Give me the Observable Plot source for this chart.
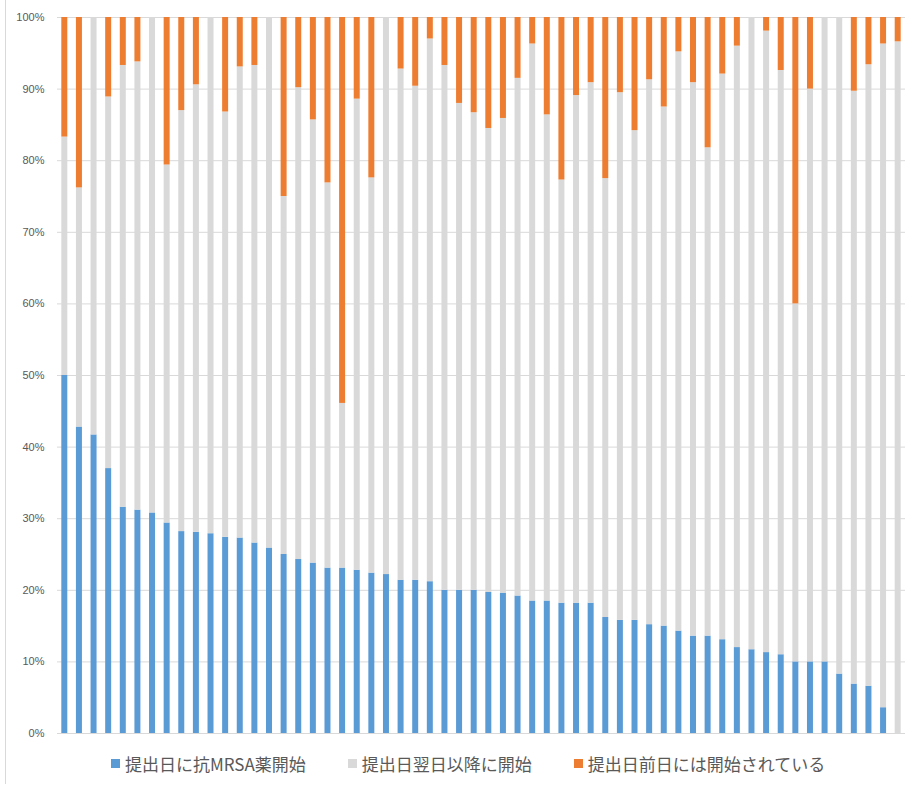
<!DOCTYPE html>
<html>
<head>
<meta charset="utf-8">
<script src="https://cdn.jsdelivr.net/npm/d3@7"></script>
<script src="https://cdn.jsdelivr.net/npm/@observablehq/plot@0.6"></script>
<style>
  html, body { margin: 0; padding: 0; background: #fff; }
  #wrap { position: relative; width: 912px; height: 785px; overflow: hidden; }
  #leftline { position: absolute; left: 5px; top: 0; width: 1px; height: 784px; background: #d9d9d9; }
  #chart { position: absolute; left: 0; top: 0; }
  #legend { position: absolute; left: 111px; top: 751px; display: flex; align-items: center; gap: 42px;
            font-family: "Noto Sans CJK JP", sans-serif; font-size: 17px; color: #595959; white-space: nowrap; }
  .item { display: flex; align-items: center; gap: 5px; }
  .sw { width: 9px; height: 9px; display: inline-block; }
</style>
</head>
<body>
<div id="wrap">
  <div id="leftline"></div>
  <div id="chart"></div>
  <div id="legend"></div>
</div>
<script>
// Categories (facilities, sorted by same-day share)
const categories = [1,2,3,4,5,6,7,8,9,10,11,12,13,14,15,16,17,18,19,20,21,22,23,24,25,26,27,28,29,30,
  31,32,33,34,35,36,37,38,39,40,41,42,43,44,45,46,47,48,49,50,51,52,53,54,55,56,57,58];

const seriesNames = ["提出日に抗MRSA薬開始", "提出日翌日以降に開始", "提出日前日には開始されている"];
const seriesColors = ["#5B9BD5", "#D9D9D9", "#ED7D31"];

// % started on submission day (blue)
const sameDay = [50.0,42.8,41.7,37.0,31.6,31.2,30.8,29.4,28.2,28.1,27.9,27.4,27.3,26.6,25.9,25.0,24.3,23.8,23.1,23.1,
  22.8,22.4,22.2,21.4,21.4,21.2,20.0,20.0,20.0,19.7,19.6,19.2,18.5,18.5,18.2,18.2,18.2,16.2,15.8,15.8,
  15.2,15.0,14.3,13.6,13.6,13.1,12.0,11.7,11.3,11.0,10.0,10.0,10.0,8.3,6.9,6.6,3.6,0.0];

// % started on the day after submission or later (gray)
const nextDay = [33.3,33.4,58.3,51.9,61.7,62.6,69.2,50.0,58.8,62.5,72.1,59.4,65.8,66.7,74.1,50.0,65.9,61.9,53.8,23.0,
  65.8,55.2,77.8,71.4,69.0,75.8,73.3,68.0,66.7,64.8,66.3,72.3,77.8,67.9,59.1,70.9,72.7,61.3,73.7,68.4,
  76.1,72.5,80.9,77.3,68.2,79.0,84.0,88.3,86.8,81.6,50.0,80.0,90.0,91.7,82.8,86.8,92.7,96.6];

// % already started by the day before submission (orange)
const prevDay = [16.7,23.8,0.0,11.1,6.7,6.2,0.0,20.6,13.0,9.4,0.0,13.2,6.9,6.7,0.0,25.0,9.8,14.3,23.1,53.9,
  11.4,22.4,0.0,7.2,9.6,3.0,6.7,12.0,13.3,15.5,14.1,8.5,3.7,13.6,22.7,10.9,9.1,22.5,10.5,15.8,
  8.7,12.5,4.8,9.1,18.2,7.9,4.0,0.0,1.9,7.4,40.0,10.0,0.0,0.0,10.3,6.6,3.7,3.4];

const yTicks = [0,10,20,30,40,50,60,70,80,90,100];

const seriesValues = [sameDay, nextDay, prevDay];
const rows = categories.flatMap((c, i) =>
  seriesNames.map((s, k) => ({cat: c, series: s, value: seriesValues[k][i]}))
);

const chart = Plot.plot({
  width: 912,
  height: 745,
  marginLeft: 57,
  marginRight: 7,
  marginTop: 17,
  marginBottom: 12,
  style: {fontFamily: "'Liberation Sans', Arial, sans-serif", fontSize: "11px", background: "transparent"},
  x: {domain: categories, paddingInner: 0.59, paddingOuter: 0.295, axis: null},
  y: {domain: [0, 100], axis: null},
  color: {domain: seriesNames, range: seriesColors},
  marks: [
    Plot.ruleY(yTicks, {y: d => d, stroke: "#d9d9d9", strokeWidth: 1}),
    Plot.barY(rows, {x: "cat", y: "value", fill: "series"}),
    Plot.axisY({ticks: yTicks, tickSize: 0, tickPadding: 13, tickFormat: d => d + "%", label: null,
                fill: "#595959", fontSize: 11})
  ]
});
document.getElementById("chart").appendChild(chart);

const legend = document.getElementById("legend");
seriesNames.forEach((name, i) => {
  const item = document.createElement("div");
  item.className = "item";
  const sw = document.createElement("span");
  sw.className = "sw";
  sw.style.background = seriesColors[i];
  const label = document.createElement("span");
  label.textContent = name;
  item.appendChild(sw);
  item.appendChild(label);
  legend.appendChild(item);
});
</script>
</body>
</html>
